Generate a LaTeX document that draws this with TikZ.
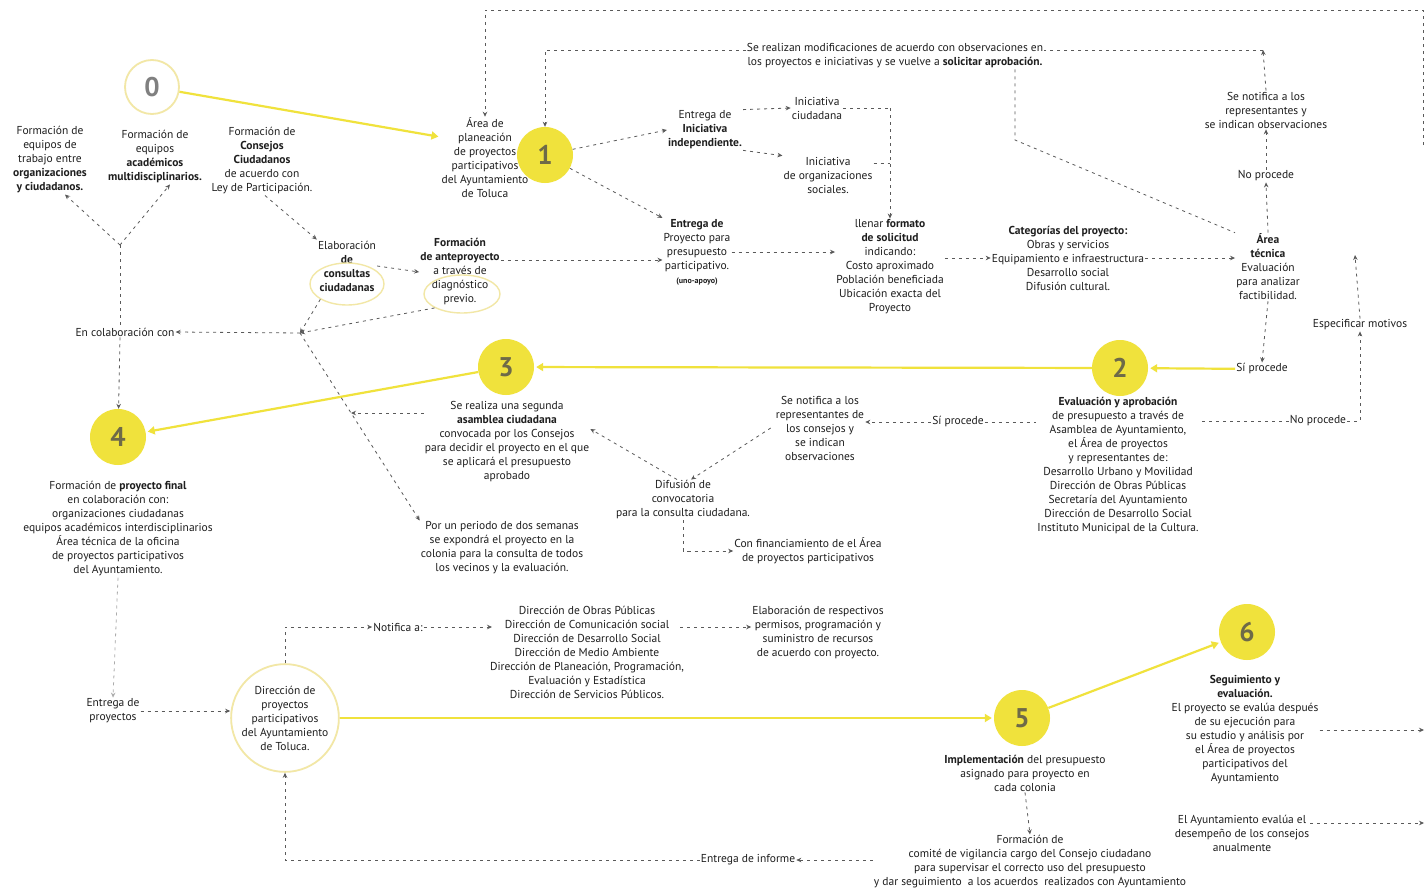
\documentclass[tikz,border=0pt]{standalone}
\usepackage{fontspec}
\setmainfont{PT Sans}
\usetikzlibrary{arrows.meta,calc,shapes.geometric}
\definecolor{yel}{HTML}{F0E23C}
\definecolor{yelL}{HTML}{F2E7A6}
\definecolor{lc}{HTML}{5A5A5A}
\definecolor{tc}{HTML}{1E1E1E}
\definecolor{numc}{HTML}{6E6A48}
\begin{document}
\begin{tikzpicture}[x=1pt,y=-1pt,
 txt/.style={align=center,font=\fontsize{11.5}{14}\selectfont,text=tc,inner sep=1pt},
 ynum/.style={circle,fill=yel,minimum size=56pt,inner sep=0pt,font=\fontsize{27}{27}\selectfont\bfseries,text=numc},
 yarr/.style={draw=yel,line width=2.2pt,shorten >=2pt,-{Triangle[length=7pt,width=8pt]}},
 da/.style={draw=lc,line width=0.8pt,dash pattern=on 3pt off 4pt,-{Stealth[length=5pt,width=4.5pt]}},
 dl/.style={draw=lc,line width=0.8pt,dash pattern=on 3pt off 4pt},
 ell/.style={draw=yelL,line width=1.4pt,ellipse},
]
\useasboundingbox[fill=white] (0,0) rectangle (1426,894);

% numbered nodes
\node[circle,draw=yelL,line width=1.8pt,minimum size=54pt,inner sep=0pt,font=\fontsize{27}{27}\selectfont\bfseries,text=gray] (n0) at (152,87) {0};
\node[ynum] (n1) at (545,155) {1};
\node[ynum] (n2) at (1120,368) {2};
\node[ynum] (n3) at (506,367) {3};
\node[ynum] (n4) at (118,437) {4};
\node[ynum] (n5) at (1022,718) {5};
\node[ynum] (n6) at (1247,632) {6};

% texts
\node[txt] (area) at (485,158) {Área de\\planeación\\de proyectos\\participativos\\del Ayuntamiento\\de Toluca};
\node[txt] (eq1) at (50,160) {Formación de\\equipos de\\trabajo entre\\\textbf{organizaciones}\\\textbf{y ciudadanos.}};
\node[txt] (eq2) at (155,157) {Formación de\\equipos\\\textbf{académicos}\\\textbf{multidisciplinarios.}};
\node[txt] (cons) at (262,161) {Formación de\\\textbf{Consejos}\\\textbf{Ciudadanos}\\de acuerdo con\\Ley de Participación.};
\node[txt] (elab) at (347,266) {Elaboración\\\textbf{de}\\\textbf{consultas}\\\textbf{ciudadanas}};
\node[ell,minimum width=74pt,minimum height=42pt] (ellA) at (347,284) {};
\node[txt] (ante) at (460,272) {\textbf{Formación}\\\textbf{de anteproyecto}\\a través de\\diagnóstico\\previo.};
\node[ell,minimum width=76pt,minimum height=38pt] (ellB) at (462,294) {};
\node[txt] (inic) at (705,130) {Entrega de\\\textbf{Iniciativa}\\\textbf{independiente.}};
\node[txt] (ic) at (817,108) {Iniciativa\\ciudadana};
\node[txt] (io) at (828,175) {Iniciativa\\de organizaciones\\sociales.};
\node[txt] (entp) at (697,252) {\textbf{Entrega de}\\Proyecto para\\presupuesto\\participativo.\\\textbf{\fontsize{8}{10}\selectfont(uno-apoyo)}};
\node[txt] (llen) at (890,267) {llenar \textbf{formato}\\\textbf{de solicitud}\\indicando:\\Costo aproximado\\Población beneficiada\\Ubicación exacta del\\Proyecto};
\node[txt] (cat) at (1068,258) {\textbf{Categorías del proyecto:}\\Obras y servicios\\Equipamiento e infraestructura\\Desarrollo social\\Difusión cultural.};
\node[txt] (tec) at (1268,267) {\textbf{Área}\\\textbf{técnica}\\Evaluación\\para analizar\\factibilidad.};
\node[txt] (nop1) at (1266,176) {No procede};
\node[txt] (notif1) at (1266,110) {Se notifica a los\\representantes y\\se indican observaciones};
\node[txt] (mod) at (895,56) {Se realizan modificaciones de acuerdo con observaciones en\\los proyectos e iniciativas y se vuelve a \textbf{solicitar aprobación.}};
\node[txt] (sip1) at (1262,369) {Sí procede};
\node[txt] (esp) at (1360,325) {Especificar motivos};
\node[txt] (nop2) at (1318,421) {No procede};
\node[txt] (ev) at (1118,466) {\textbf{Evaluación y aprobación}\\de presupuesto a través de\\Asamblea de Ayuntamiento,\\el Área de proyectos\\y representantes de:\\Desarrollo Urbano y Movilidad\\Dirección de Obras Públicas\\Secretaría del Ayuntamiento\\Dirección de Desarrollo Social\\Instituto Municipal de la Cultura.};
\node[txt] (sip2) at (958,422) {Sí procede};
\node[txt] (notif2) at (820,428) {Se notifica a los\\representantes de\\los consejos y\\se indican\\observaciones};
\node[txt] (dif) at (683,500) {Difusión de\\convocatoria\\para la consulta ciudadana.};
\node[txt] (fin) at (808,551) {Con financiamiento de el Área\\de proyectos participativos};
\node[txt] (asam) at (507,442) {Se realiza una segunda\\\textbf{asamblea ciudadana}\\convocada por los Consejos\\para decidir el proyecto en el que\\se aplicará el presupuesto\\aprobado};
\node[txt] (per) at (502,548) {Por un periodo de dos semanas\\se expondrá el proyecto en la\\colonia para la consulta de todos\\los vecinos y la evaluación.};
\node[txt] (colab) at (125,332) {En colaboración con};
\node[txt] (fpf) at (118,529) {Formación de \textbf{proyecto final}\\en colaboración con:\\organizaciones ciudadanas\\equipos académicos interdisciplinarios\\Área técnica de la oficina\\de proyectos participativos\\del Ayuntamiento.};
\node[txt] (entr) at (113,711) {Entrega de\\proyectos};
\node[txt,circle,draw=yelL,line width=1.8pt,minimum size=96pt,inner sep=0pt] (dir) at (285,718) {Dirección de\\proyectos\\participativos\\del Ayuntamiento\\de Toluca.};
\node[txt] (notifa) at (398,627) {Notifica a:};
\node[txt] (dirs) at (587,652) {Dirección de Obras Públicas\\Dirección de Comunicación social\\Dirección de Desarrollo Social\\Dirección de Medio Ambiente\\Dirección de Planeación, Programación,\\Evaluación y Estadística\\Dirección de Servicios Públicos.};
\node[txt] (perm) at (818,633) {Elaboración de respectivos\\permisos, programación y\\suministro de recursos\\de acuerdo con proyecto.};
\node[txt] (impl) at (1025,773) {\textbf{Implementación} del presupuesto\\asignado para proyecto en\\cada colonia};
\node[txt] (comite) at (1030,862) {Formación de\\comité de vigilancia cargo del Consejo ciudadano\\para supervisar el correcto uso del presupuesto\\y dar seguimiento\ \ a los acuerdos\ \ realizados con Ayuntamiento};
\node[txt] (einf) at (748,860) {Entrega de informe};
\node[txt] (seg) at (1245,730) {\textbf{Seguimiento y}\\\textbf{evaluación.}\\El proyecto se evalúa después\\de su ejecución para\\su estudio y análisis por\\el Área de proyectos\\participativos del\\Ayuntamiento};
\node[txt] (anual) at (1242,833) {El Ayuntamiento evalúa el\\desempeño de los consejos\\anualmente};

% coordinates
\coordinate (tr) at (1423,145);
\coordinate (c1) at (1263,50);
\coordinate (m1) at (1015,140);
\coordinate (j) at (300,333);
\coordinate (jd) at (351,413);
\coordinate (yj) at (120,245);
\coordinate (dirsin) at (492,627);
\coordinate (dirsout) at (680,627);
\coordinate (espu) at (1355,255);
\coordinate (r1) at (1424,727);

% yellow flow
\draw[yarr] (n0) -- ([yshift=21pt]area.west);
\draw[yarr] (sip1) -- (n2);
\draw[yarr] (n2) -- (n3);
\draw[yarr] (n3) -- (n4);
\draw[yarr] (dir) -- (n5);
\draw[yarr] (n5) -- (n6);

% top loops
\draw[da] (tr) -- (1423,10) -- (485,10) -- (area.north);
\draw[da] (notif1.north) -- (c1);
\draw[dl] (c1) -- (c1 -| mod.east);
\draw[da] (mod.west |- c1) -- (n1.north |- c1) -- (n1.north);
\draw[dl] (mod.south -| m1) -- (m1) -- (tec.north west);

% stage 1
\draw[da] (n1) -- (inic.west);
\draw[da] (n1) -- (entp.north west);
\draw[da] (inic.north east) -- (ic.west);
\draw[da] (inic.south east) -- (io.north west);
\draw[dl] (ic.east) -- (ic.east -| llen.north);
\draw[dl] ([yshift=12pt]io.east) -- ([yshift=12pt]io.east -| llen.north);
\draw[da] (ic.east -| llen.north) -- (llen.north);
\draw[da] (entp.east) -- (entp.east -| llen.west);
\draw[da] ([yshift=12pt]ante.east) -- ([yshift=12pt]ante.east -| entp.west);
\draw[da] (llen.east |- cat.west) -- (cat.west);
\draw[da] (cat.east) -- (cat.east -| tec.west);
\draw[da] (tec.north) -- (nop1.south);
\draw[da] (nop1.north) -- (notif1.south);
\draw[da] (tec.south) -- (sip1.north);

% stage 2
\draw[dl] (nop2.west) -- (nop2.west -| ev.east);
\draw[da] (nop2.east) -| (esp.south);
\draw[da] (esp.north) -- (espu);
\draw[dl] (sip2.east) -- (sip2.east -| ev.west);
\draw[da] (sip2.west) -- (sip2.west -| notif2.east);
\draw[da] ([xshift=-4pt]notif2.west) -- ([xshift=8pt]dif.north);
\draw[da] ([xshift=-6pt]dif.north) -- ([yshift=13pt]asam.east);
\draw[da] (dif.south) |- (fin.west);

% left block
\draw[da] ([xshift=3pt]cons.south) -- (elab.north west);
\draw[da] (elab.east) -- (ante.west);
\draw[da] (ellA.south west) -- (j);
\draw[da] (ellB.south west) -- (j);
\draw[da] (j) -- (colab.east);
\draw[da] (j) -- (per.north west);
\draw[da] ([yshift=29pt]asam.west) -- (jd);
\draw[da] (yj) -- ([xshift=15pt]eq1.south);
\draw[da] (yj) -- ([xshift=15pt]eq2.south);
\draw[dl] (yj) -- (yj |- colab.north);
\draw[da] (yj |- colab.south) -- (n4);

% stage 4-5
\draw[da,draw=lc!50] (fpf.south) -- (entr.north);
\draw[da] (entr.east) -- (entr.east -| dir.west);
\draw[da] (dir.north) |- (notifa.west);
\draw[da] (notifa.east) -- (dirsin);
\draw[da] (dirsout) -- (dirsout -| perm.west);
\draw[da] (impl.south) -- (comite.north);
\draw[da] (comite.west |- einf) -- (einf.east);
\draw[da] (einf.west) -| (dir.south);

% stage 6
\draw[da] (seg.east) -- (seg.east -| r1);
\draw[da] ([yshift=10pt]anual.east) -- ([yshift=10pt]anual.east -| r1);
\end{tikzpicture}
\end{document}
